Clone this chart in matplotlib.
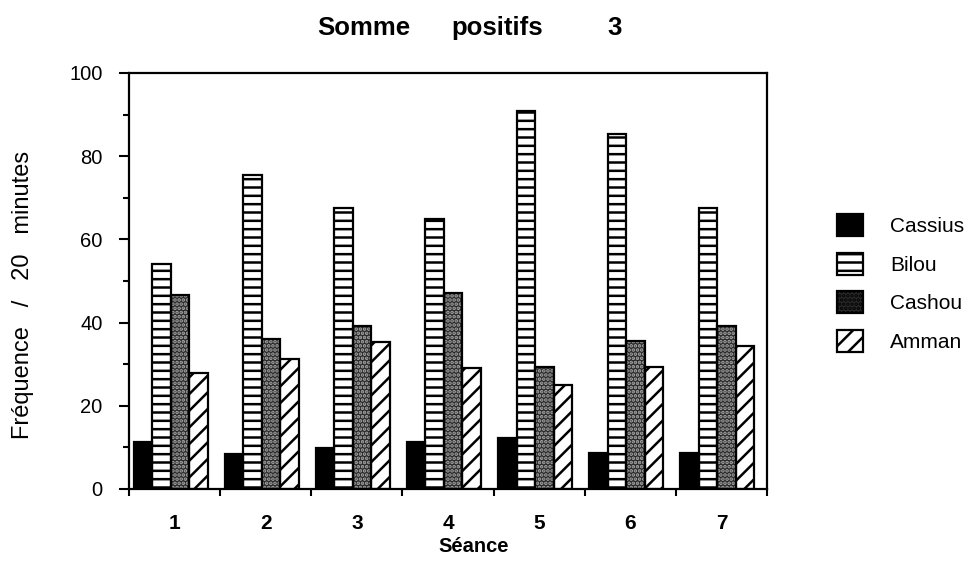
import matplotlib
matplotlib.use("Agg")
import matplotlib.pyplot as plt
from matplotlib.patches import Patch
import numpy as np

plt.rcParams['font.family'] = ['Liberation Sans', 'DejaVu Sans']
plt.rcParams['hatch.linewidth'] = 1.8

seances = ["1", "2", "3", "4", "5", "6", "7"]
series_names = ["Cassius", "Bilou", "Cashou", "Amman"]
cassius = [11.4, 8.4, 9.8, 11.4, 12.2, 8.6, 8.6]
bilou = [54.0, 75.6, 67.6, 64.9, 90.9, 85.3, 67.6]
cashou = [46.6, 36.1, 39.2, 47.0, 29.4, 35.6, 39.3]
amman = [28.0, 31.2, 35.4, 29.2, 25.0, 29.4, 34.4]
yticks = [0, 20, 40, 60, 80, 100]
title_words = ["Somme", "positifs", "3"]

values = [cassius, bilou, cashou, amman]

fig = plt.figure(figsize=(9.8, 5.64), dpi=100)
ax = fig.add_axes([129/980, 75/564, 638/980, 416/564])

x = np.arange(1, len(seances) + 1)
bw = 0.203
start = -0.5 + 0.05

styles = [
    dict(fc='black', hatch=None, hc='black'),
    dict(fc='white', hatch='--', hc='black'),
    dict(fc='#2a2a2a', hatch='....', hc='#a8a8a8'),
    dict(fc='white', hatch='//', hc='black'),
]

for i, (vals, st) in enumerate(zip(values, styles)):
    pos = x + start + i * bw
    ax.bar(pos, vals, width=bw, align='edge', facecolor=st['fc'],
           hatch=st['hatch'], edgecolor=st['hc'], linewidth=0, zorder=2)
    ax.bar(pos, vals, width=bw, align='edge', fill=False,
           edgecolor='black', linewidth=1.6, zorder=3)

ax.set_xlim(0.5, len(seances) + 0.5)
ax.set_ylim(0, 100)
ax.set_yticks(yticks)
ax.set_yticks(np.arange(10, 100, 20), minor=True)
ax.tick_params(axis='y', which='major', direction='out', length=7, width=1.5,
               labelsize=14.5, pad=12)
ax.tick_params(axis='y', which='minor', direction='out', length=4, width=1.5)

ax.set_xticks(np.arange(0.5, len(seances) + 1, 1.0))
ax.set_xticklabels([])
ax.set_xticks(x, minor=True)
ax.set_xticklabels(seances, minor=True, fontweight='bold', fontsize=15)
ax.tick_params(axis='x', which='major', direction='out', length=5, width=1.5)
ax.tick_params(axis='x', which='minor', length=0, pad=18)

for sp in ax.spines.values():
    sp.set_linewidth(1.6)

ax.set_xlabel("Séance", fontweight='bold', fontsize=14.5)
ax.xaxis.set_label_coords((474 - 129) / 638, -(546 - 489) / 416)
ax.xaxis.label.set_va('center')
ax.set_ylabel("Fréquence   /   20   minutes", fontsize=17)
ax.yaxis.set_label_coords(-(129 - 23) / 638, (489 - 295) / 416)
ax.yaxis.label.set_va('center')

for word, xc in zip(title_words, [364, 497, 615]):
    fig.text(xc/980, 1 - 28/564, word, ha='center', va='center',
             fontsize=18.5, fontweight='bold')

handles = []
for st in styles:
    handles.append(Patch(facecolor=st['fc'], hatch=st['hatch'],
                         edgecolor='black', linewidth=1.6))
leg = fig.legend(handles, series_names, loc='upper left',
                 bbox_to_anchor=(837/980, 1 - 214/564), frameon=False,
                 fontsize=15, handlelength=1.25, handleheight=1.25,
                 labelspacing=0.8, handletextpad=1.3, borderpad=0,
                 borderaxespad=0)

fig.savefig("out.png", dpi=100)
